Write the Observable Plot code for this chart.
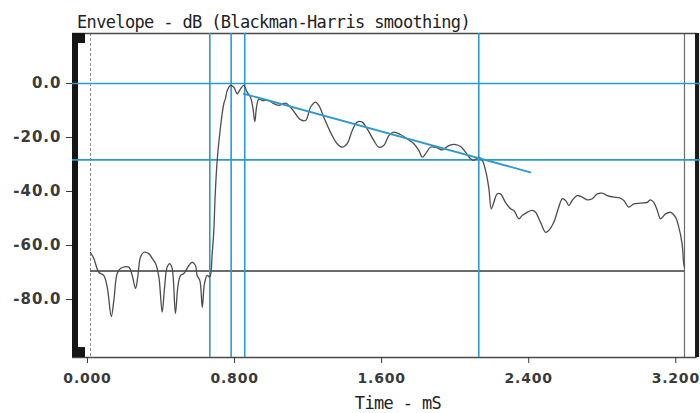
<!DOCTYPE html>
<html>
<head>
<meta charset="utf-8">
<script src="https://cdn.jsdelivr.net/npm/d3@7"></script>
<script src="https://cdn.jsdelivr.net/npm/@observablehq/plot@0.6"></script>
<style>
  html, body { margin: 0; padding: 0; background: #fff; }
  #wrap { position: relative; width: 700px; height: 413px; overflow: hidden; }
  .mono { position: absolute; font-family: "DejaVu Sans Mono", monospace; font-size: 17px; line-height: 18px; letter-spacing: -0.65px; color: #222; white-space: nowrap; }
  #title { left: 77px; top: 12.5px; }
  #xlabel { left: 338px; top: 394px; width: 120px; text-align: center; }
  g[aria-label="x-axis tick label"] { font-size: 14px; letter-spacing: 0.8px; }
</style>
</head>
<body>
<div id="wrap">
  <div id="title" class="mono">Envelope - dB (Blackman-Harris smoothing)</div>
  <div id="xlabel" class="mono">Time - mS</div>
</div>
<script>
// ---- data (time in ms, level in dB) ----
const timeMs = [
  0.000, 0.018, 0.045, 0.072, 0.091, 0.113, 0.127, 0.145, 0.163, 0.208,
  0.227, 0.245, 0.257, 0.272, 0.290, 0.317, 0.336, 0.354, 0.372, 0.390,
  0.403, 0.417, 0.431, 0.444, 0.462, 0.475, 0.490, 0.508, 0.535, 0.553,
  0.571, 0.580, 0.595, 0.608, 0.620, 0.635, 0.649, 0.662, 0.671, 0.677,
  0.689, 0.707, 0.725, 0.734, 0.744, 0.762, 0.780, 0.798, 0.816, 0.834,
  0.852, 0.870, 0.883, 0.894, 0.903, 0.916, 0.934, 0.970, 0.997, 1.024,
  1.061, 1.088, 1.115, 1.142, 1.170, 1.197, 1.224, 1.242, 1.269, 1.305,
  1.342, 1.369, 1.396, 1.424, 1.451, 1.478, 1.505, 1.541, 1.568, 1.595,
  1.623, 1.650, 1.686, 1.723, 1.759, 1.786, 1.805, 1.823, 1.849, 1.886,
  1.913, 1.949, 1.986, 2.013, 2.040, 2.067, 2.085, 2.112, 2.131, 2.149,
  2.167, 2.180, 2.194, 2.212, 2.230, 2.257, 2.285, 2.303, 2.330, 2.348,
  2.375, 2.403, 2.421, 2.448, 2.475, 2.493, 2.520, 2.547, 2.566, 2.584,
  2.602, 2.620, 2.647, 2.675, 2.702, 2.729, 2.756, 2.783, 2.811, 2.847,
  2.874, 2.901, 2.928, 2.955, 2.992, 3.028, 3.046, 3.064, 3.083, 3.101,
  3.128, 3.155, 3.182, 3.200, 3.218, 3.227, 3.231
];
const envelopeDb = [
  -62.6, -64.8, -69.9, -71.1, -75.4, -86.3, -80.4, -70.4, -68.5, -68.0,
  -71.1, -75.9, -71.7, -64.3, -62.5, -63.0, -64.8, -66.7, -71.7, -84.7,
  -75.4, -68.0, -66.7, -68.5, -85.2, -75.4, -71.1, -70.4, -67.4, -66.2,
  -67.4, -71.1, -73.0, -82.9, -74.1, -71.1, -71.7, -63.0, -54.4, -43.3,
  -28.5, -16.2, -7.5, -5.6, -2.6, -0.7, -1.4, -3.8, -2.0, -0.7,
  -3.2, -5.1, -8.8, -14.1, -8.8, -5.7, -6.3, -6.3, -7.5, -8.1,
  -7.3, -8.8, -11.2, -13.4, -13.7, -8.8, -6.9, -8.1, -12.5, -18.0,
  -22.3, -23.6, -22.3, -17.4, -14.3, -14.3, -16.8, -21.1, -23.6, -23.0,
  -19.3, -18.0, -18.9, -20.5, -22.3, -24.8, -27.3, -26.0, -23.6, -23.8,
  -24.6, -23.0, -22.6, -23.3, -25.4, -27.9, -28.5, -27.3, -28.5, -32.2,
  -38.9, -46.4, -44.0, -40.9, -40.9, -44.0, -46.4, -47.0, -50.1, -48.9,
  -47.7, -47.0, -47.7, -51.4, -55.1, -54.4, -51.4, -45.8, -42.7, -43.3,
  -45.2, -43.3, -41.5, -42.1, -43.1, -42.7, -40.9, -40.6, -41.5, -42.1,
  -42.3, -43.3, -45.8, -44.6, -44.3, -44.0, -43.1, -44.0, -47.0, -50.1,
  -48.3, -47.7, -49.5, -53.2, -59.4, -66.8, -68.1
];
const markerTimes = [0.649, 0.765, 0.839, 2.112];   // blue cursors
const levelLines = [0, -28.3];                        // blue horizontal levels
const noiseFloorDb = -69.4;
const noiseFloorSpan = [0, 3.231];
const fitTimes = [0.834, 2.393];                      // decay regression line
const fitDb = [-3.8, -32.9];
const xTicks = [0, 0.8, 1.6, 2.4, 3.2];
const yTicks = [0, -20, -40, -60, -80];
const endTime = 3.231;

// ---- frame geometry (data units) ----
const xMin = -0.0979, xMax = 3.3181;
const yMin = -101.48, yMax = 18.52;

const series = timeMs.map((t, i) => ({t, db: envelopeDb[i]}));
const fit = fitTimes.map((t, i) => ({t, db: fitDb[i]}));

const blue = "#2b9bcd";
const ink = "#3a3a3a";

const chart = Plot.plot({
  width: 700,
  height: 413,
  marginLeft: 72,
  marginRight: 0,
  marginTop: 33,
  marginBottom: 56,
  x: {domain: [xMin, xMax]},
  y: {domain: [yMin, yMax]},
  style: {
    background: "#fff",
    fontFamily: "'DejaVu Sans', sans-serif",
    fontSize: "15px",
    fontWeight: "bold",
    color: ink,
    letterSpacing: "1px"
  },
  marks: [
    Plot.ruleX([0], {stroke: "#8a8a8a", strokeDasharray: "3,2", strokeWidth: 1}),
    Plot.ruleX([endTime], {stroke: "#6a6a6a", strokeWidth: 1.2}),
    Plot.ruleY([yMax, yMin], {x1: xMin, x2: 3.30, stroke: "#4a4a4a", strokeWidth: 1.5}),
    Plot.rect([0], {x1: xMin, x2: -0.0653, y1: yMin, y2: yMax, fill: "#151515"}),
    Plot.rect([0], {x1: xMin, x2: -0.0272, y1: 14.8, y2: yMax, fill: "#151515"}),
    Plot.rect([0], {x1: xMin, x2: -0.0272, y1: yMin, y2: -97.8, fill: "#151515"}),
    Plot.rect([0], {x1: 3.291, x2: 3.313, y1: yMin, y2: yMax, fill: "#1a1a1a"}),
    Plot.ruleY([noiseFloorDb], {x1: noiseFloorSpan[0], x2: noiseFloorSpan[1], stroke: ink, strokeWidth: 1.5}),
    Plot.ruleX(markerTimes, {stroke: blue, strokeWidth: 1.6}),
    Plot.ruleY(levelLines, {stroke: blue, strokeWidth: 1.6}),
    Plot.line(series, {x: "t", y: "db", stroke: "#4d4d4d", strokeWidth: 1.3, curve: "catmull-rom"}),
    Plot.line(fit, {x: "t", y: "db", stroke: blue, strokeWidth: 1.8}),
    Plot.axisX({ticks: xTicks, tickFormat: d => d.toFixed(3), tickSize: 6, tickPadding: 10, dx: -3, label: null}),
    Plot.axisY({ticks: yTicks, tickFormat: d => d.toFixed(1), tickSize: 6, tickPadding: 5, label: null})
  ]
});

const wrap = document.getElementById("wrap");
wrap.insertBefore(chart, wrap.firstChild);
chart.style.position = "absolute";
chart.style.left = "0px";
chart.style.top = "0px";
</script>
</body>
</html>
